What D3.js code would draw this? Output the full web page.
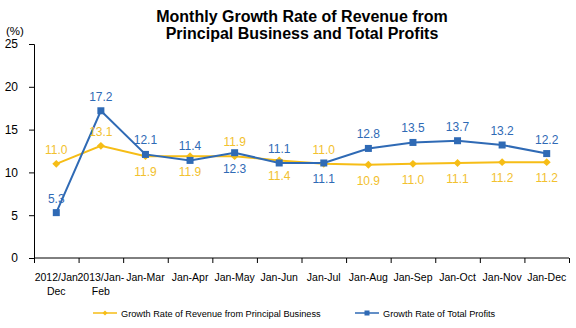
<!DOCTYPE html>
<html>
<head>
<meta charset="utf-8">
<script src="https://cdn.jsdelivr.net/npm/d3@7"></script>
<style>
  body { margin: 0; background: #fff; }
  svg { display: block; font-family: Arial, "Liberation Sans", sans-serif; }
</style>
</head>
<body>
<svg id="chart" width="576" height="328"></svg>
<script>
// categories (two-line labels)
let months = ["2012/Jan|Dec", "2013/Jan-|Feb", "Jan-Mar", "Jan-Apr", "Jan-May", "Jan-Jun",
              "Jan-Jul", "Jan-Aug", "Jan-Sep", "Jan-Oct", "Jan-Nov", "Jan-Dec"];

// growth rates (%)
let revenue = [11.0, 13.1, 11.9, 11.9, 11.9, 11.4, 11.0, 10.9, 11.0, 11.1, 11.2, 11.2];
let profits = [5.3, 17.2, 12.1, 11.4, 12.3, 11.1, 11.1, 12.8, 13.5, 13.7, 13.2, 12.2];

// where each value label sits: 1 = above the point, -1 = below
let revenuePos = [1, 1, -1, -1, 1, -1, 1, -1, -1, -1, -1, -1];
let profitsPos = [1, 1, 1, 1, -1, 1, -1, 1, 1, 1, 1, 1];

let yTicks = [0, 5, 10, 15, 20, 25];

let svg = d3.select("#chart");

let plotLeft = 34, plotRight = 569, plotTop = 44, plotBottom = 258;

let xScale = d3.scaleBand().domain(months).range([plotLeft, plotRight]);
let yScale = d3.scaleLinear().domain([0, 25]).range([plotBottom, plotTop]);

let yellow = "#f6bd16";
let yellowText = "#f2c12e";
let blue = "#2f6ab5";

// title
svg.append("text")
    .attr("x", 302).attr("y", 22)
    .attr("text-anchor", "middle")
    .style("font-size", "16px").style("font-weight", "bold")
    .text("Monthly Growth Rate of Revenue from");
svg.append("text")
    .attr("x", 302).attr("y", 39)
    .attr("text-anchor", "middle")
    .style("font-size", "16px").style("font-weight", "bold")
    .text("Principal Business and Total Profits");

svg.append("text")
    .attr("x", 6).attr("y", 35)
    .style("font-size", "11.5px")
    .text("(%)");

// y axis
let yAxis = d3.axisLeft(yScale).tickValues(yTicks).tickSize(5).tickPadding(3);
let yAxisGroup = svg.append("g")
    .attr("transform", `translate(${plotLeft},0)`)
    .attr("font-family", null)
    .call(yAxis);
yAxisGroup.attr("font-family", null);
yAxisGroup.select(".domain").attr("stroke", "#000");
yAxisGroup.selectAll("text").style("font-size", "12px").attr("fill", "#000")
    .attr("x", -16);
yAxisGroup.selectAll(".tick line").attr("stroke", "#000");

// x axis: ticks on category boundaries
let xAxisGroup = svg.append("g")
    .attr("transform", `translate(0,${plotBottom})`);
xAxisGroup.append("line")
    .attr("x1", plotLeft).attr("x2", plotRight)
    .attr("stroke", "#000");
let bounds = months.map(m => xScale(m)).concat([plotRight]);
xAxisGroup.selectAll(".tk")
    .data(bounds)
    .enter()
    .append("line")
    .attr("x1", d => d + 0.5).attr("x2", d => d + 0.5)
    .attr("y1", 0).attr("y2", 5)
    .attr("stroke", "#000");

let xLabels = xAxisGroup.selectAll(".lbl")
    .data(months)
    .enter()
    .append("text")
    .attr("text-anchor", "middle")
    .style("font-size", "10.5px")
    .attr("x", d => xScale(d) + xScale.bandwidth() / 2);
xLabels.each(function (d) {
    let parts = d.split("|");
    let t = d3.select(this);
    parts.forEach((p, i) => {
        t.append("tspan")
            .attr("x", xScale(d) + xScale.bandwidth() / 2)
            .attr("y", 23 + i * 14)
            .text(p);
    });
});

let cx = (d, i) => xScale(months[i]) + xScale.bandwidth() / 2;

let line = d3.line()
    .x((d, i) => cx(d, i))
    .y(d => yScale(d));

// revenue series
svg.append("path")
    .datum(revenue)
    .attr("d", line)
    .attr("fill", "none")
    .attr("stroke", yellow)
    .attr("stroke-width", 2);

// profits series
svg.append("path")
    .datum(profits)
    .attr("d", line)
    .attr("fill", "none")
    .attr("stroke", blue)
    .attr("stroke-width", 2);

svg.selectAll(".diamond")
    .data(revenue)
    .enter()
    .append("path")
    .attr("d", d3.symbol(d3.symbolDiamond2, 40))
    .attr("transform", (d, i) => `translate(${cx(d, i)},${yScale(d)})`)
    .attr("fill", yellow);

svg.selectAll(".square")
    .data(profits)
    .enter()
    .append("rect")
    .attr("x", (d, i) => cx(d, i) - 3.5)
    .attr("y", d => yScale(d) - 3.5)
    .attr("width", 7).attr("height", 7)
    .attr("fill", blue);

// value labels
function labelOffset(pos) {
    return pos > 0 ? -10 : 20;
}

svg.selectAll(".revLabel")
    .data(revenue)
    .enter()
    .append("text")
    .attr("text-anchor", "middle")
    .style("font-size", "12px")
    .attr("fill", yellowText)
    .attr("x", (d, i) => cx(d, i))
    .attr("y", (d, i) => yScale(d) + labelOffset(revenuePos[i]))
    .text(d => d.toFixed(1));

svg.selectAll(".profLabel")
    .data(profits)
    .enter()
    .append("text")
    .attr("text-anchor", "middle")
    .style("font-size", "12px")
    .attr("fill", blue)
    .attr("x", (d, i) => cx(d, i))
    .attr("y", (d, i) => yScale(d) + labelOffset(profitsPos[i]))
    .text(d => d.toFixed(1));

// legend
let legend = [
    { name: "Growth Rate of Revenue from Principal Business", color: yellow, x: 93, mark: "diamond" },
    { name: "Growth Rate of Total Profits", color: blue, x: 355, mark: "square" }
];
let ly = 313;
legend.forEach(l => {
    let g = svg.append("g");
    g.append("line")
        .attr("x1", l.x).attr("x2", l.x + 24)
        .attr("y1", ly).attr("y2", ly)
        .attr("stroke", l.color).attr("stroke-width", 1.5);
    if (l.mark == "diamond") {
        g.append("path")
            .attr("d", d3.symbol(d3.symbolDiamond2, 16))
            .attr("transform", `translate(${l.x + 12},${ly})`)
            .attr("fill", l.color);
    } else {
        g.append("rect")
            .attr("x", l.x + 9.5).attr("y", ly - 2.5)
            .attr("width", 5).attr("height", 5)
            .attr("fill", l.color);
    }
    g.append("text")
        .attr("x", l.x + 28).attr("y", ly + 3.5)
        .style("font-size", "9.2px")
        .text(l.name);
});
</script>
</body>
</html>
